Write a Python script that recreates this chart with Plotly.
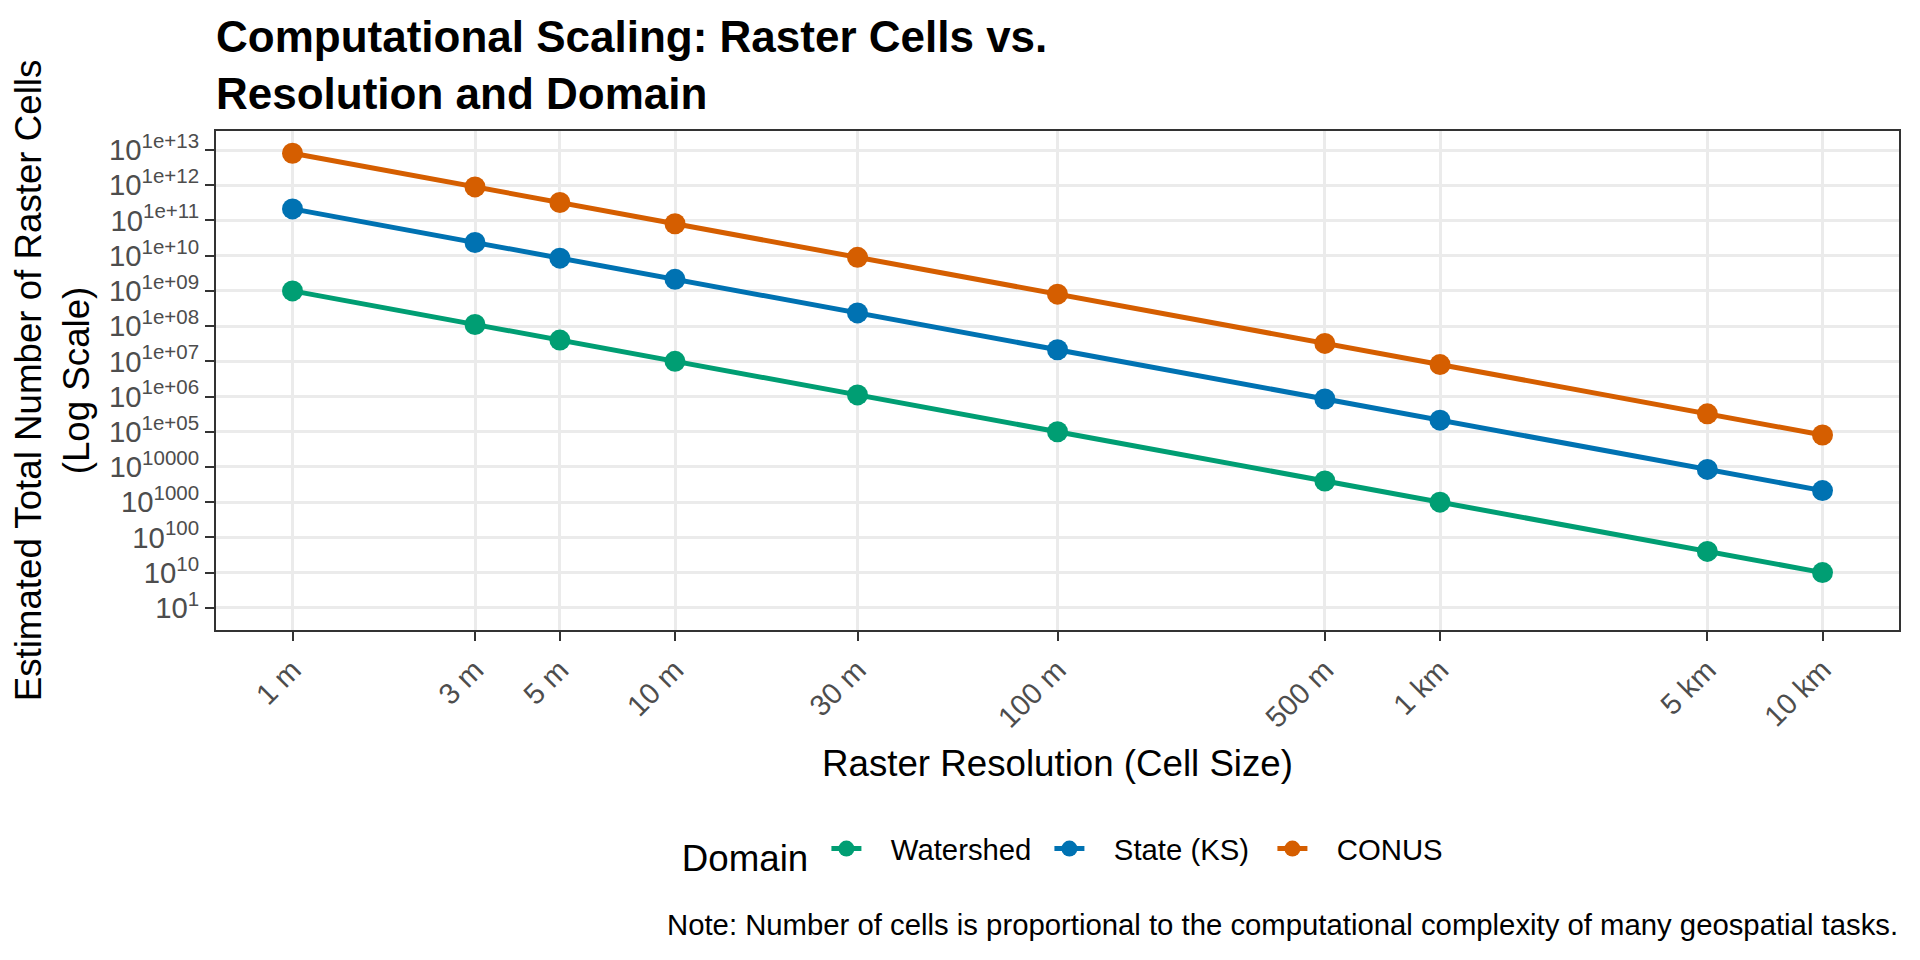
import plotly.graph_objects as go

# resolutions (cell size in metres) and their tick labels
resolution_m = [1, 3, 5, 10, 30, 100, 500, 1000, 5000, 10000]
resolution_labels = ["1 m", "3 m", "5 m", "10 m", "30 m", "100 m", "500 m", "1 km", "5 km", "10 km"]

# estimated number of raster cells per domain
watershed_cells = [1.0e9, 1.11e8, 4.0e7, 1.0e7, 1.11e6, 1.0e5, 4.0e3, 1.0e3, 40, 10]
state_ks_cells = [2.13e11, 2.37e10, 8.5e9, 2.13e9, 2.37e8, 2.13e7, 8.5e5, 2.13e5, 8.5e3, 2.13e3]
conus_cells = [8.08e12, 8.98e11, 3.23e11, 8.08e10, 8.98e9, 8.08e8, 3.23e7, 8.08e6, 3.23e5, 8.08e4]

domains = ["Watershed", "State (KS)", "CONUS"]
domain_colors = ["#009E73", "#0072B2", "#D55E00"]

# y breaks and the (odd) ggplot-style labels
y_breaks = [1e13, 1e12, 1e11, 1e10, 1e9, 1e8, 1e7, 1e6, 1e5, 1e4, 1e3, 1e2, 1e1, 1]
y_exponent_text = ["1e+13", "1e+12", "1e+11", "1e+10", "1e+09", "1e+08", "1e+07",
                   "1e+06", "1e+05", "10000", "1000", "100", "10", "1"]
y_labels = ["10<sup>" + s + "</sup>" for s in y_exponent_text]

FONT = "Liberation Sans, Arial, Helvetica, sans-serif"
PAD = "\u00a0\u00a0\u00a0"  # a bit of room between legend key and its label

fig = go.Figure()
for name, cells, col in zip(domains, [watershed_cells, state_ks_cells, conus_cells], domain_colors):
    fig.add_trace(go.Scatter(
        x=resolution_m, y=cells, name=PAD + name, mode="lines+markers",
        line=dict(color=col, width=5),
        marker=dict(color=col, size=21),
    ))

# page body has an 8px margin, so the figure is a bit smaller than the window
fig.update_layout(
    width=1904, height=944,
    paper_bgcolor="white", plot_bgcolor="white",
    font=dict(family=FONT, color="black"),
    margin=dict(l=208, r=13, t=123, b=322),
    title=dict(
        text="Computational Scaling: Raster Cells vs.<br>Resolution and Domain",
        font=dict(family=FONT, size=44, color="black", weight="bold"),
        x=0, xref="paper", xanchor="left",
        y=0.9536, yref="container", yanchor="top",
    ),
    legend=dict(
        orientation="h", x=0.518, xanchor="center", y=-0.445, yanchor="middle",
        title=dict(text="Domain\u00a0", side="left", font=dict(size=36.7)),
        font=dict(size=29.3, color="black"),
        entrywidth=178, entrywidthmode="pixels",
    ),
    showlegend=True,
)

fig.update_xaxes(
    type="log", range=[-0.2, 4.2],
    tickvals=resolution_m, ticktext=resolution_labels, tickangle=-45,
    tickfont=dict(size=29.3, color="#4D4D4D"),
    ticks="outside", ticklen=9, tickwidth=2, tickcolor="#333333",
    showgrid=True, gridcolor="#EBEBEB", gridwidth=2.5,
    showline=True, linecolor="#333333", linewidth=2, mirror=True,
    zeroline=False,
    title=dict(text="Raster Resolution (Cell Size)", font=dict(size=36.7, color="black"), standoff=18),
)

fig.update_yaxes(
    type="log", range=[-0.63, 13.54],
    tickvals=y_breaks, ticktext=y_labels,
    tickfont=dict(size=29.3, color="#4D4D4D"),
    ticks="outside", ticklen=9, tickwidth=2, tickcolor="#333333",
    showgrid=True, gridcolor="#EBEBEB", gridwidth=2.5,
    showline=True, linecolor="#333333", linewidth=2, mirror=True,
    zeroline=False,
    title=dict(text="Estimated Total Number of Raster Cells<br>(Log Scale)",
               font=dict(size=36.7, color="black"), standoff=14),
)

fig.add_annotation(
    text="Note: Number of cells is proportional to the computational complexity of many geospatial tasks.",
    xref="paper", yref="paper", x=1.0006, y=-0.591, xanchor="right", yanchor="middle",
    showarrow=False, font=dict(size=29.3, color="black"),
)

fig.write_html("out.html")
